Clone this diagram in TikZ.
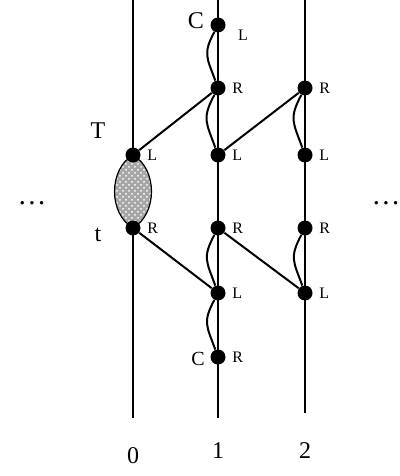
\documentclass[tikz,border=0pt]{standalone}
\usepackage{fontspec}
\setmainfont{Liberation Serif}
\usetikzlibrary{backgrounds,calc,patterns,positioning}
\begin{document}
\begin{tikzpicture}[x=0.5pt,y=-0.5pt]
\tikzstyle{site}=[circle,fill=black,inner sep=0pt,minimum size=7.5pt]
\tikzstyle{world}=[line width=1.4pt]
\tikzstyle{link}=[-,line width=1pt]
\tikzstyle{wire}=[-,line width=1pt,looseness=1.3]
\tikzstyle{tag}=[font=\footnotesize,inner sep=1pt,label distance=2pt]

\useasboundingbox (0,0) rectangle (400,476);

% sites on line 0
\node[site,label={[tag]right:L}] (v0L) at (133,155) {};
\node[site,label={[tag]right:R}] (v0R) at (133,228) {};

% sites on line 1
\node[site,label={[tag,label distance=5pt]-8:L}] (v1L0) at (218,25) {};
\node[site,label={[tag]right:R}] (v1R1) at (218,88) {};
\node[site,label={[tag]right:L}] (v1L1) at (218,155) {};
\node[site,label={[tag]right:R}] (v1R2) at (218,228) {};
\node[site,label={[tag]right:L}] (v1L2) at (218,293) {};
\node[site,label={[tag]right:R}] (v1R3) at (218,357) {};

% sites on line 2
\node[site,label={[tag]right:R}] (v2R1) at (305,88) {};
\node[site,label={[tag]right:L}] (v2L1) at (305,155) {};
\node[site,label={[tag]right:R}] (v2R2) at (305,228) {};
\node[site,label={[tag]right:L}] (v2L2) at (305,293) {};

% line ends
\coordinate (top0) at (133,0);
\coordinate (bot0) at (133,418);
\coordinate (top1) at (218,0);
\coordinate (bot1) at (218,418);
\coordinate (top2) at (305,0);
\coordinate (bot2) at (305,413);

\begin{scope}[on background layer]
\draw[world] (top0) -- (bot0);
\draw[world] (top1) -- (bot1);
\draw[world] (top2) -- (bot2);
\draw[line width=0.6pt,preaction={fill=gray!70},pattern=crosshatch dots,pattern color=white]
  (v0L.center) to[bend right=60] (v0R.center) to[bend right=60] (v0L.center);
\end{scope}

\path
  (v0L) edge [link] (v1R1)
  (v1L1) edge [link] (v2R1)
  (v0R) edge [link] (v1L2)
  (v1R2) edge [link] (v2L2);

\draw[wire] (v1L0) to[out=-118,in=110] (v1R1);
\draw[wire] (v1R1) to[out=-118,in=110] (v1L1);
\draw[wire] (v1R2) to[out=-118,in=110] (v1L2);
\draw[wire] (v1L2) to[out=-118,in=110] (v1R3);
\draw[wire] (v2R1) to[out=-118,in=110] (v2L1);
\draw[wire] (v2R2) to[out=-118,in=110] (v2L2);

\node[font=\large] (Tlbl) at (98,131) {T};
\node[font=\large] (tlbl) at (98,235) {t};
\node[font=\large] (Ctop) at (196,21) {C};
\node (Cbot) at (198,359) {C};

\node[font=\Large] (dotsl) at (32,203) {\dots};
\node[font=\Large] (dotsr) at (386,203) {\dots};

\node[font=\large] (n0) at (133,456) {0};
\node[font=\large] (n1) at (218,451) {1};
\node[font=\large] (n2) at (305,451) {2};
\end{tikzpicture}
\end{document}
